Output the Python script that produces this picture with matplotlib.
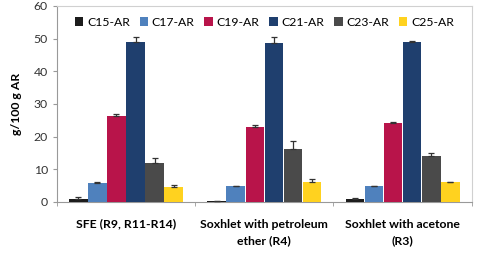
"""
Grouped bar chart: g/100 g AR by chain length for three extraction methods.
"""
import numpy as np
import matplotlib
matplotlib.use("Agg")
import matplotlib.pyplot as plt

categories = ["SFE (R9, R11-R14)", "Soxhlet with petroleum\nether (R4)", "Soxhlet with acetone\n(R3)"]
series = ["C15-AR", "C17-AR", "C19-AR", "C21-AR", "C23-AR", "C25-AR"]
values = {
    "C15-AR": [1.0, 0.3, 0.9],
    "C17-AR": [5.7, 4.8, 4.8],
    "C19-AR": [26.4, 22.9, 24.2],
    "C21-AR": [49.1, 48.5, 48.9],
    "C23-AR": [12.0, 16.1, 14.2],
    "C25-AR": [4.6, 6.2, 6.0],
}
errors = {
    "C15-AR": [0.4, 0.1, 0.2],
    "C17-AR": [0.5, 0.2, 0.2],
    "C19-AR": [0.5, 0.6, 0.4],
    "C21-AR": [1.4, 2.0, 0.3],
    "C23-AR": [1.6, 2.5, 0.7],
    "C25-AR": [0.6, 0.8, 0.2],
}
colors = ["#1c1c1c", "#4f81bd", "#b8144a", "#1f3f6e", "#4a4a4a", "#ffd21f"]


def main():
    plt.rcParams.update({
        "font.family": "Lato",
        "font.size": 8.5,
    })

    fig = plt.figure(figsize=(4.78, 2.56), dpi=100)
    ax = fig.add_axes([0.119, 0.211, 0.868, 0.766])

    x = np.arange(len(categories))
    width = 0.138
    n = len(series)
    for i, (name, col) in enumerate(zip(series, colors)):
        offs = (i - (n - 1) / 2) * width
        err = np.array(errors[name])
        # only the upper half of the error bar is shown
        ax.bar(x + offs, values[name], width * 0.97, color=col, label=name,
               yerr=[np.zeros_like(err), err],
               error_kw=dict(ecolor="#333333", elinewidth=0.9,
                             capsize=2.5, capthick=0.9),
               zorder=3)

    ax.set_xlim(-0.5, len(categories) - 0.5)
    ax.set_ylim(0, 60)
    ax.set_yticks(range(0, 61, 10))
    ax.set_xticks(x)
    ax.set_xticklabels(categories, fontweight="bold", fontsize=8.8,
                       multialignment="center", linespacing=1.6)
    ax.set_xticks(np.arange(len(categories) + 1) - 0.5, minor=True)
    ax.tick_params(axis="x", which="major", length=0, pad=12)
    ax.tick_params(axis="x", which="minor", length=3, color="#999999")
    ax.tick_params(axis="y", length=3, color="#999999", labelsize=8.8, labelcolor="#333333")
    ax.set_ylabel("g/100 g AR", fontweight="bold", fontsize=8.8, labelpad=8)

    for side in ("left", "bottom"):
        ax.spines[side].set_color("#999999")
    for side in ("top", "right"):
        ax.spines[side].set_color("#d0d0d0")

    ax.legend(loc="upper center", ncol=6, frameon=False, fontsize=8.8,
              handlelength=0.7, handleheight=0.7, handletextpad=0.3,
              columnspacing=0.8, bbox_to_anchor=(0.5, 1.0))

    fig.savefig("out.png", dpi=100)
    plt.close(fig)


if __name__ == "__main__":
    main()
